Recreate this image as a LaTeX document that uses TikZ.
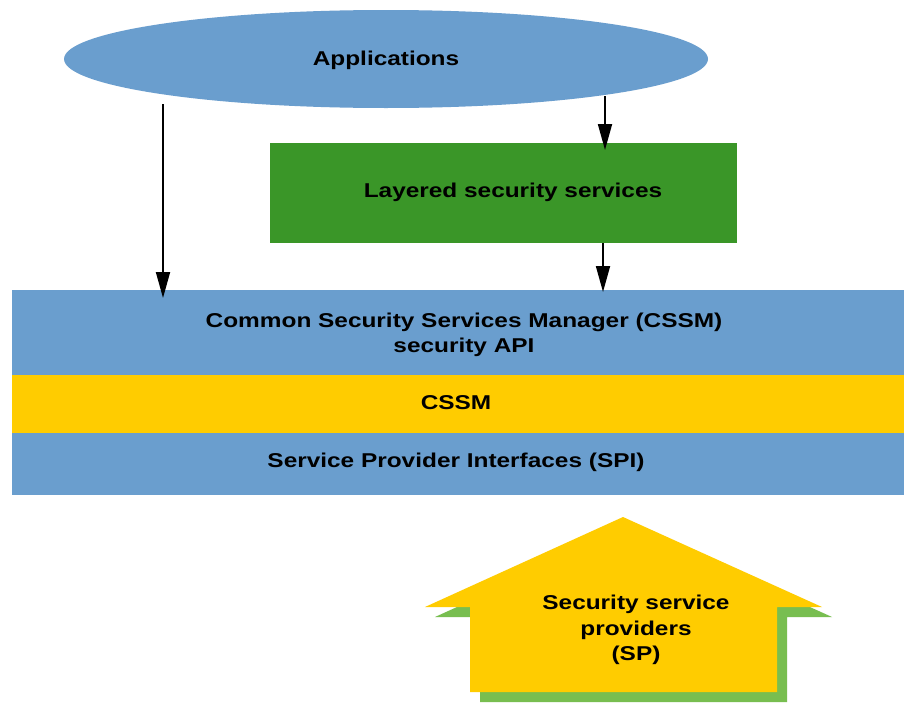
\documentclass[tikz,border=0pt]{standalone}
\usepackage{fontspec}
\setmainfont{Liberation Sans}[FakeStretch=1.22]
\usetikzlibrary{arrows.meta}
\definecolor{layerblue}{RGB}{106,158,206}
\definecolor{svcgreen}{RGB}{58,150,40}
\definecolor{cssmyellow}{RGB}{255,204,0}
\definecolor{shadowgreen}{RGB}{120,190,80}
\tikzset{
  lbl/.style={font=\bfseries\fontsize{20}{25.5}\selectfont, align=center, text=black},
  flow/.style={draw=black, line width=1.8pt, -{Triangle[length=26pt,width=14pt]}},
}
\begin{document}
\begin{tikzpicture}[x=1pt,y=-1pt]
\useasboundingbox (0,0) rectangle (904,704);
\fill[white] (0,0) rectangle (904,704);
% applications ellipse
\fill[layerblue] (386,59) ellipse [x radius=322, y radius=49];
\node[lbl] (app) at (386,60) {Applications};
\coordinate (appL) at (163,104);
\coordinate (appR) at (605,96);
% layered services box
\fill[svcgreen] (270,143) rectangle (737,243);
\node[lbl] (lss) at (513,192) {Layered security services};
\coordinate (lssT) at (605,150);
\coordinate (lssB) at (603,243);
% stacked layers
\fill[layerblue] (12,290) rectangle (904,375);
\fill[cssmyellow] (12,375) rectangle (904,433);
\fill[layerblue] (12,433) rectangle (904,495);
\node[lbl] (api) at (464,335) {Common Security  Services Manager (CSSM)\\security API};
\node[lbl] (cssm) at (456,403) {CSSM};
\node[lbl] (spi) at (456,462) {Service Provider Interfaces (SPI)};
\coordinate (apiL) at (163,298);
\coordinate (apiR) at (603,292);
% connectors
\draw[flow] (appL) -- (apiL);
\draw[flow] (appR) -- (lssT);
\draw[flow] (lssB) -- (apiR);
% providers arrow with shadow
\fill[shadowgreen] (633,527) -- (832,617) -- (787,617) -- (787,702) -- (480,702) -- (480,617) -- (435,617) -- cycle;
\fill[cssmyellow] (623,517) -- (822,607) -- (777,607) -- (777,692) -- (470,692) -- (470,607) -- (425,607) -- cycle;
\node[lbl] (sp) at (636,630) {Security service\\providers\\(SP)};
\end{tikzpicture}
\end{document}
